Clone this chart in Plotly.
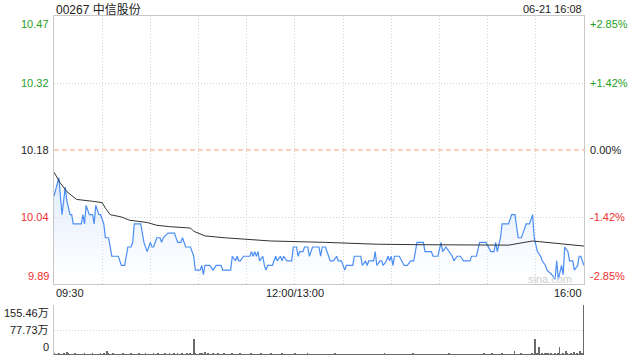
import plotly.graph_objects as go

# ---------------- data ----------------
title_text = "00267 中信股份"
stamp_text = "06-21 16:08"
prev_close = 10.18

# minute offsets since 09:30 (trading minutes, lunch break removed) and price vertices
price_t = [0, 3, 5, 7, 8, 10, 11, 12, 17, 18, 19, 20, 22, 24, 25, 26, 28, 29, 30, 31,
           32, 34, 36, 38, 40, 42, 44, 45, 46, 48, 49, 50, 54, 56, 58, 59, 60, 61, 62, 64,
           66, 67, 68, 71, 75, 77, 79, 80, 82, 85, 87, 88, 91, 92, 93, 94, 97, 99, 101, 104,
           105, 110, 111, 113, 114, 115, 116, 118, 122, 123, 124, 125, 126, 127, 128, 130, 131, 132, 133, 136,
           138, 139, 141, 142, 143, 145, 148, 149, 151, 152, 153, 155, 156, 158, 159, 160, 161, 165, 166, 167,
           169, 171, 172, 174, 176, 177, 179, 181, 182, 186, 187, 191, 192, 194, 195, 196, 199, 200, 201, 203,
           204, 205, 207, 208, 209, 210, 211, 212, 215, 218, 220, 222, 224, 226, 230, 231, 235, 236, 239, 241,
           242, 244, 246, 248, 249, 251, 253, 255, 259, 260, 263, 265, 269, 272, 274, 275, 276, 278, 279, 283,
           285, 287, 289, 291, 292, 294, 296, 298, 299, 301, 303, 304, 306, 307, 310, 312, 313, 314, 316, 317,
           318, 320, 321, 323, 324, 326, 327, 328, 330]
price_v = [10.08, 10.12, 10.04, 10.10, 10.07, 10.04, 10.04, 10.02, 10.02, 10.04, 10.02, 10.06, 10.04, 10.04, 10.02, 10.06, 10.04, 10.04, 10.03, 10.02,
           9.99, 9.99, 9.95, 9.95, 9.95, 9.93, 9.93, 9.95, 9.97, 9.97, 9.98, 10.02, 10.02, 9.98, 9.96, 9.97, 9.98, 9.97, 9.97, 9.99,
           9.99, 9.98, 9.99, 10.00, 10.00, 9.98, 9.98, 9.99, 9.97, 9.97, 9.95, 9.92, 9.92, 9.93, 9.91, 9.93, 9.93, 9.92, 9.93, 9.93,
           9.92, 9.92, 9.95, 9.94, 9.95, 9.94, 9.94, 9.95, 9.95, 9.96, 9.95, 9.96, 9.95, 9.96, 9.94, 9.95, 9.93, 9.92, 9.93, 9.93,
           9.95, 9.94, 9.95, 9.94, 9.95, 9.94, 9.94, 9.97, 9.97, 9.95, 9.96, 9.96, 9.97, 9.97, 9.95, 9.96, 9.97, 9.97, 9.95, 9.97,
           9.97, 9.95, 9.94, 9.94, 9.95, 9.94, 9.94, 9.92, 9.93, 9.93, 9.95, 9.95, 9.93, 9.94, 9.93, 9.94, 9.94, 9.96, 9.93, 9.94,
           9.94, 9.93, 9.94, 9.95, 9.94, 9.95, 9.93, 9.95, 9.95, 9.93, 9.93, 9.94, 9.94, 9.98, 9.98, 9.96, 9.96, 9.95, 9.95, 9.98,
           9.96, 9.97, 9.96, 9.95, 9.94, 9.95, 9.95, 9.94, 9.94, 9.95, 9.95, 9.98, 9.98, 9.96, 9.96, 9.98, 9.96, 9.99, 10.02, 10.02,
           10.04, 10.04, 9.99, 9.99, 10.00, 10.02, 10.02, 10.04, 9.99, 9.96, 9.95, 9.94, 9.93, 9.92, 9.91, 9.90, 9.94, 9.90, 9.93, 9.91,
           9.97, 9.96, 9.94, 9.94, 9.92, 9.93, 9.95, 9.95, 9.93]

avg_t = [0, 4, 8, 14, 24, 30, 32, 35, 42, 47, 58, 64, 72, 85, 87, 94, 106, 119, 135, 169, 201, 226, 253, 283, 298, 330]
avg_v = [10.132, 10.108, 10.090, 10.073, 10.069, 10.066, 10.054, 10.040, 10.035, 10.028, 10.023, 10.017, 10.014, 10.011,
         10.004, 9.994, 9.990, 9.987, 9.983, 9.980, 9.976, 9.975, 9.974, 9.974, 9.983, 9.972]

# per-minute volume, in 万 shares (index 0 .. 330)
volume = [6, 3, 2, 4, 3, 2, 5, 3, 9, 4, 3, 2, 3, 4, 2, 3, 2, 3, 2, 4, 3, 2, 3, 2, 4, 3, 2, 3, 2, 5,
          3, 4, 3, 14, 5, 3, 2, 4, 3, 2, 3, 2, 3, 4, 2, 3, 3, 2, 4, 3, 2, 3, 2, 4, 3, 2, 3, 5, 2, 3,
          3, 2, 4, 3, 2, 5, 3, 2, 3, 4, 2, 3, 6, 3, 2, 4, 3, 5, 2, 3, 4, 3, 2, 5, 3, 4, 2, 50, 4, 3,
          3, 6, 4, 3, 8, 3, 4, 2, 3, 5, 3, 2, 4, 3, 2, 3, 4, 2, 3, 3, 2, 4, 3, 2, 3, 2, 4, 3, 2, 3,
          3, 2, 3, 4, 2, 3, 2, 3, 2, 4, 3, 2, 3, 2, 3, 4, 2, 3, 2, 3, 3, 2, 4, 3, 2, 3, 2, 3, 2, 3,
          4, 3, 2, 3, 2, 3, 2, 3, 4, 2, 3, 2, 3, 2, 3, 2, 2, 3, 2, 3, 2, 3, 2, 3, 2, 4, 3, 2, 3, 2,
          3, 2, 3, 2, 3, 2, 3, 2, 3, 2, 2, 3, 2, 3, 2, 3, 2, 3, 2, 2, 3, 2, 3, 2, 3, 2, 6, 3, 2, 3,
          2, 3, 2, 3, 2, 3, 2, 3, 2, 3, 2, 3, 2, 3, 4, 2, 3, 2, 3, 2, 3, 2, 3, 2, 3, 2, 3, 2, 3, 2,
          3, 2, 3, 2, 3, 2, 5, 2, 3, 2, 3, 2, 3, 2, 3, 2, 3, 2, 3, 2, 3, 2, 3, 2, 3, 2, 3, 2, 4, 3,
          3, 2, 3, 6, 3, 2, 3, 2, 3, 4, 3, 2, 3, 2, 3, 2, 3, 14, 3, 2, 3, 4, 3, 2, 3, 2, 3, 2, 4, 3,
          50, 4, 25, 3, 5, 3, 6, 4, 7, 3, 4, 3, 5, 3, 4, 25, 3, 4, 3, 14, 4, 3, 5, 3, 9, 3, 4, 3, 14, 4,
          155.46]

price_ticks = [10.47, 10.32, 10.18, 10.04, 9.89]
pct_ticks = ["+2.85%", "+1.42%", "0.00%", "-1.42%", "-2.85%"]
vol_ticks = ["155.46万", "77.73万", "0"]
time_ticks = ["09:30", "12:00/13:00", "16:00"]
time_tick_pos = [0, 150, 330]

# ---------------- styling ----------------
FONT = "Arial, Liberation Sans, Noto Sans CJK SC, sans-serif"
GREEN = "#1f9f1f"
RED = "#f03030"
BLACK = "#222222"
GRID = "#d4d4d4"
BORDER = "#c8c8c8"

W, H = 640, 360
X0, X1 = 54, 584
Y_TOP, Y_BOT = 16, 284
V_TOP, V_BOT = 305, 355

lo = prev_close * (1 - 0.0285)
hi = prev_close * (1 + 0.0285)
step = (hi - lo) / 4

fig = go.Figure()

fig.add_trace(go.Scatter(
    x=price_t, y=price_v, mode="lines",
    line=dict(color="#4a8ef5", width=1.2),
    fill="tozeroy",
    fillgradient=dict(type="vertical",
                      colorscale=[[0, "rgba(230,240,254,0.0)"], [1, "rgba(215,230,252,0.85)"]],
                      start=lo, stop=10.12),
    xaxis="x", yaxis="y", hoverinfo="skip", showlegend=False))

fig.add_trace(go.Scatter(
    x=avg_t, y=avg_v, mode="lines",
    line=dict(color="#333333", width=1),
    xaxis="x", yaxis="y", hoverinfo="skip", showlegend=False))

fig.add_trace(go.Bar(
    x=list(range(len(volume))), y=volume,
    marker=dict(color="#6a6a6a", line=dict(width=0)),
    width=0.55, xaxis="x2", yaxis="y2", hoverinfo="skip", showlegend=False))

def px_x(p):
    return p / W

def px_y(p):
    return 1 - p / H

fig.update_layout(
    width=W, height=H,
    margin=dict(l=0, r=0, t=0, b=0),
    paper_bgcolor="white", plot_bgcolor="white",
    font=dict(family=FONT, size=11, color=BLACK),
    showlegend=False,
    bargap=0,
    xaxis=dict(domain=[px_x(X0), px_x(X1)], range=[0, 330],
               tickvals=[30 * i for i in range(1, 11)], showticklabels=False, ticks="",
               showgrid=True, gridcolor=GRID, griddash="1px,2px", gridwidth=1,
               zeroline=False, showline=True, linecolor=BORDER, linewidth=1, mirror=True),
    yaxis=dict(domain=[px_y(Y_BOT), px_y(Y_TOP)], range=[lo, hi],
               tickvals=[lo + step, lo + 3 * step], showticklabels=False, ticks="",
               showgrid=True, gridcolor=GRID, griddash="1px,2px", gridwidth=1,
               zeroline=False, showline=True, linecolor=BORDER, linewidth=1, mirror=True),
    xaxis2=dict(domain=[px_x(X0), px_x(X1)], range=[0, 330.3], anchor="y2",
                showticklabels=False, ticks="", showgrid=False, zeroline=False,
                showline=False),
    yaxis2=dict(domain=[px_y(V_BOT), px_y(V_TOP)], range=[0, 155.46], anchor="x2",
                tickvals=[77.73, 155.46], showticklabels=False, ticks="",
                showgrid=True, gridcolor=GRID, griddash="1px,2px", gridwidth=1,
                zeroline=False, showline=True, linecolor=BORDER, linewidth=1),
)

# previous close dashed line
fig.add_shape(type="line", xref="x domain", yref="y", x0=0, x1=1, y0=prev_close, y1=prev_close,
              line=dict(color="#f0a27a", width=1, dash="5px,3px"))

ann = []
# title & time stamp
ann.append(dict(x=px_x(X0), y=px_y(9), xref="paper", yref="paper", text=title_text,
                showarrow=False, xanchor="left", yanchor="middle", font=dict(size=12, color=BLACK)))
ann.append(dict(x=px_x(X1), y=px_y(9), xref="paper", yref="paper", text=stamp_text,
                showarrow=False, xanchor="right", yanchor="middle", font=dict(size=11, color=BLACK)))

price_colors = [GREEN, GREEN, BLACK, RED, RED]
anchors = ["top", "middle", "middle", "middle", "bottom"]
levels = [hi, lo + 3 * step, prev_close, lo + step, lo]
for i in range(5):
    ann.append(dict(x=px_x(X0 - 3), y=levels[i], xref="paper", yref="y",
                    text=f"{price_ticks[i]:.2f}", showarrow=False, xanchor="right",
                    yanchor=anchors[i], font=dict(size=11, color=price_colors[i])))
    ann.append(dict(x=px_x(X1 + 4), y=levels[i], xref="paper", yref="y",
                    text=pct_ticks[i], showarrow=False, xanchor="left",
                    yanchor=anchors[i], font=dict(size=11, color=price_colors[i])))

x_anchor = ["left", "center", "right"]
for i in range(3):
    ann.append(dict(x=time_tick_pos[i], y=px_y(293), xref="x", yref="paper", text=time_ticks[i],
                    showarrow=False, xanchor=x_anchor[i], yanchor="middle",
                    font=dict(size=11, color=BLACK)))

vol_levels = [155.46, 77.73, 0]
vol_anchor = ["top", "middle", "bottom"]
for i in range(3):
    ann.append(dict(x=px_x(X0 - 3), y=vol_levels[i], xref="paper", yref="y2", text=vol_ticks[i],
                    showarrow=False, xanchor="right", yanchor=vol_anchor[i],
                    font=dict(size=11, color=BLACK)))

ann.append(dict(x=px_x(574), y=px_y(279), xref="paper", yref="paper", text="sina.com",
                showarrow=False, xanchor="right", yanchor="middle",
                font=dict(size=11, color="#d0d0d0")))

fig.update_layout(annotations=ann)
fig.write_html("out.html")
